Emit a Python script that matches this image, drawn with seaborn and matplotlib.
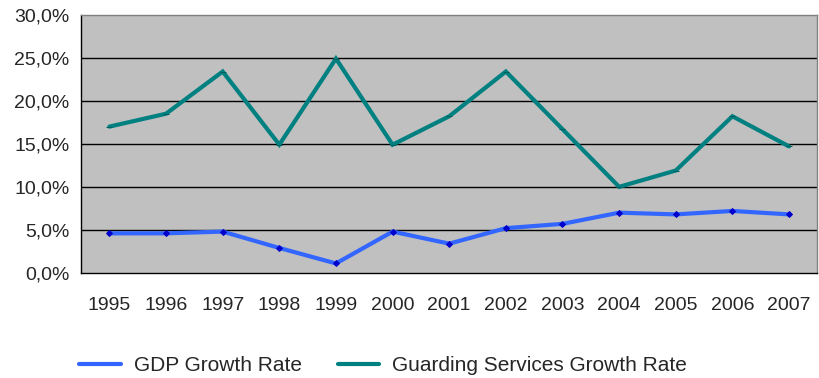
import matplotlib
matplotlib.use("Agg")
import matplotlib.pyplot as plt
import matplotlib.ticker as mticker
import seaborn as sns
import pandas as pd
import numpy as np

years = ["1995", "1996", "1997", "1998", "1999", "2000", "2001",
         "2002", "2003", "2004", "2005", "2006", "2007"]
gdp = [4.6, 4.6, 4.8, 2.9, 1.1, 4.8, 3.4, 5.2, 5.7, 7.0, 6.8, 7.2, 6.8]
guarding = [17.0, 18.5, 23.4, 14.9, 24.9, 14.9, 18.2, 23.4, 16.7, 10.0, 11.9, 18.2, 14.7]
series_names = ["GDP Growth Rate", "Guarding Services Growth Rate"]
y_ticks = [0, 5, 10, 15, 20, 25, 30]

sns.set_style("white")
plt.rcParams['font.family'] = ['Liberation Sans', 'DejaVu Sans']

df = pd.DataFrame({
    "pos": list(range(len(years))) * 2,
    "value": gdp + guarding,
    "series": [series_names[0]] * len(years) + [series_names[1]] * len(years),
})

fig = plt.figure(figsize=(8.19, 3.78), dpi=100)
ax = fig.add_axes([0.099, 0.278, 0.899, 0.683])
ax.set_facecolor("#C0C0C0")

palette = {series_names[0]: "#3366FF", series_names[1]: "#008080"}
sns.lineplot(data=df, x="pos", y="value", hue="series", palette=palette,
             linewidth=3, ax=ax, legend=False, zorder=3)
for line, mc in zip(ax.get_lines(), ["#0000CC", "#006060"]):
    line.set_marker("D" if mc == "#0000CC" else "_")
    line.set_markersize(3 if mc == "#0000CC" else 5)
    line.set_markerfacecolor(mc)
    line.set_markeredgecolor(mc)
    line.set_solid_joinstyle("miter")

ax.set_xlim(-0.5, len(years) - 0.5)
ax.set_ylim(0, 30)
ax.set_yticks(y_ticks)
ax.yaxis.set_major_formatter(mticker.FuncFormatter(lambda v, p: f"{v:.1f}%".replace(".", ",")))
ax.set_xticks(range(len(years)))
ax.set_xticklabels(years)
ax.set_xticks(np.arange(-0.5, len(years), 1), minor=True)
ax.tick_params(axis="x", which="major", length=0, pad=17, labelsize=14)
ax.tick_params(axis="x", which="minor", length=5, direction="out", color="black", width=1)
ax.tick_params(axis="y", length=5, direction="out", color="black", width=1, labelsize=14, pad=3.5)
ax.set_xlabel("")
ax.set_ylabel("")

for yv in y_ticks[1:-1]:
    ax.axhline(yv, color="black", linewidth=1, zorder=1)

for s in ["top", "right"]:
    ax.spines[s].set_color("#808080")
    ax.spines[s].set_linewidth(1)
for s in ["left", "bottom"]:
    ax.spines[s].set_color("black")
    ax.spines[s].set_linewidth(1)

handles = [plt.Line2D([0], [0], color=palette[n], linewidth=3) for n in series_names]
fig.legend(handles, series_names, loc="center", bbox_to_anchor=(0.468, 0.032),
           ncol=2, frameon=False, fontsize=15, handlelength=2.0,
           handletextpad=0.63, columnspacing=1.7)

fig.savefig("out.png", dpi=100)
